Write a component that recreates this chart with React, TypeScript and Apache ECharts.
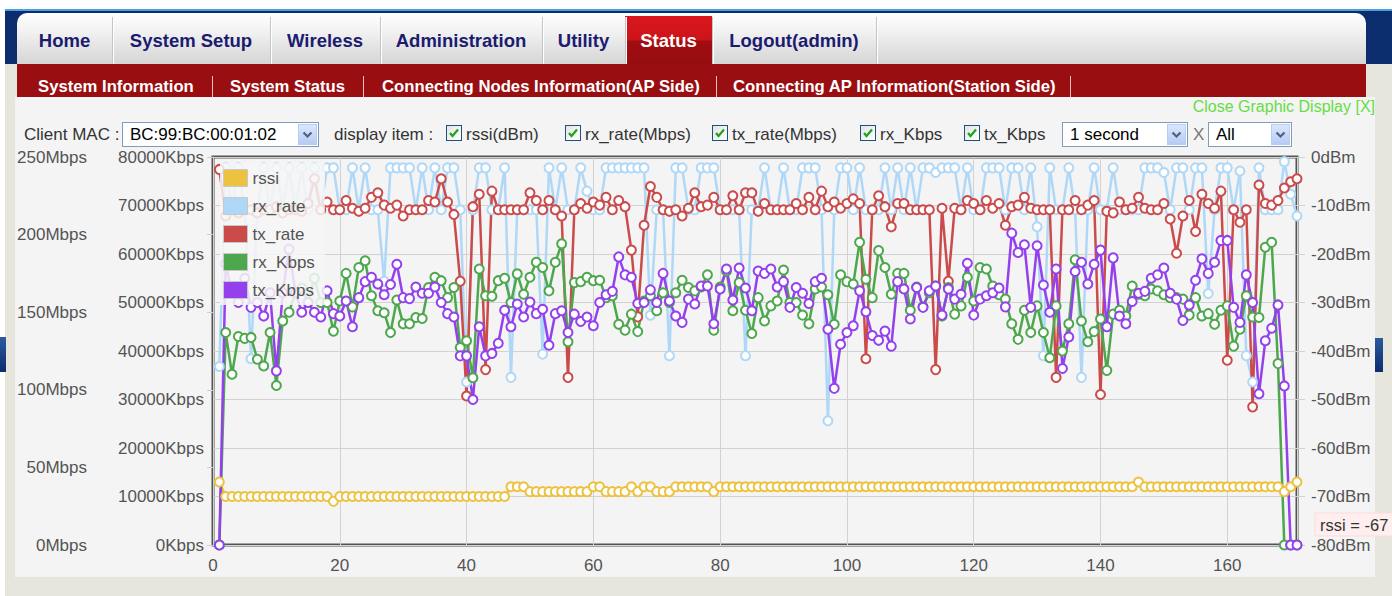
import React, { useEffect, useRef } from "react";
import * as echarts from "echarts";

const FONT = '"Liberation Sans", Arial, sans-serif';

// ---------- chart data (x = 1..171 samples) ----------
const seriesNames = ["rssi", "rx_rate", "tx_rate", "rx_Kbps", "tx_Kbps"];
const seriesColors = ["#edc240", "#afd8f8", "#cb4b4b", "#4da74d", "#9440ed"];
const xTickValues = [0, 20, 40, 60, 80, 100, 120, 140, 160];

const rssi = [
  -67, -70, -70, -70, -70, -70, -70, -70, -70, -70,
  -70, -70, -70, -70, -70, -70, -70, -70, -71, -70,
  -70, -70, -70, -70, -70, -70, -70, -70, -70, -70,
  -70, -70, -70, -70, -70, -70, -70, -70, -70, -70,
  -70, -70, -70, -70, -70, -70, -68, -68, -68, -69,
  -69, -69, -69, -69, -69, -69, -69, -69, -69, -68,
  -68, -69, -69, -69, -69, -68, -69, -68, -68, -69,
  -69, -69, -68, -68, -68, -68, -68, -68, -69, -68,
  -68, -68, -68, -68, -68, -68, -68, -68, -68, -68,
  -68, -68, -68, -68, -68, -68, -68, -68, -68, -68,
  -68, -68, -68, -68, -68, -68, -68, -68, -68, -68,
  -68, -68, -68, -68, -68, -68, -68, -68, -68, -68,
  -68, -68, -68, -68, -68, -68, -68, -68, -68, -68,
  -68, -68, -68, -68, -68, -68, -68, -68, -68, -68,
  -68, -68, -68, -68, -68, -67, -68, -68, -68, -68,
  -68, -68, -68, -68, -68, -68, -68, -68, -68, -68,
  -68, -68, -68, -68, -68, -68, -68, -68, -69, -68,
  -67,
];

const rxRate = [
  115, 243, 216, 243, 216, 120, 216, 243, 216, 243,
  216, 243, 216, 243, 216, 243, 216, 243, 243, 216,
  216, 243, 216, 243, 216, 216, 170, 243, 243, 243,
  243, 216, 243, 216, 243, 216, 243, 243, 216, 105,
  216, 243, 243, 216, 216, 243, 108, 216, 216, 216,
  216, 123, 243, 216, 243, 216, 216, 243, 228, 216,
  216, 243, 243, 243, 243, 243, 243, 243, 148, 216,
  216, 122, 243, 243, 216, 216, 243, 243, 243, 216,
  216, 216, 216, 122, 216, 216, 243, 216, 216, 243,
  216, 216, 243, 243, 243, 216, 80, 216, 243, 243,
  216, 243, 216, 216, 216, 243, 216, 243, 216, 243,
  216, 243, 243, 240, 243, 243, 243, 216, 243, 216,
  216, 243, 243, 243, 216, 243, 243, 216, 243, 205,
  122, 243, 216, 216, 243, 216, 108, 216, 243, 216,
  216, 243, 216, 216, 216, 216, 243, 243, 243, 240,
  216, 243, 243, 216, 243, 243, 162, 216, 243, 243,
  216, 241, 122, 105, 243, 216, 216, 216, 247, 226,
  212,
];

const txRate = [
  242, 212, 216, 214, 216, 216, 214, 216, 216, 218,
  214, 216, 216, 215, 220, 236, 216, 221, 216, 216,
  222, 217, 215, 217, 224, 227, 219, 217, 219, 212,
  216, 216, 216, 222, 221, 236, 221, 213, 170, 96,
  218, 226, 113, 228, 216, 216, 216, 216, 216, 227,
  222, 216, 222, 216, 212, 108, 216, 220, 217, 221,
  219, 224, 216, 222, 218, 190, 147, 206, 231, 224,
  216, 215, 216, 212, 217, 227, 218, 219, 224, 216,
  216, 225, 216, 227, 227, 215, 220, 216, 216, 216,
  216, 220, 216, 224, 216, 228, 218, 221, 217, 220,
  223, 220, 120, 216, 225, 218, 205, 220, 220, 216,
  216, 216, 216, 113, 217, 170, 217, 216, 222, 220,
  216, 222, 217, 220, 206, 218, 219, 224, 217, 216,
  216, 216, 108, 216, 216, 222, 216, 219, 222, 97,
  215, 214, 221, 216, 217, 224, 217, 216, 216, 220,
  210, 188, 212, 222, 202, 226, 220, 217, 228, 119,
  216, 208, 216, 89, 232, 220, 219, 222, 230, 234,
  236,
];

const rxKbps = [
  0, 43800, 35200, 43000, 42600, 42800, 38300, 36900, 43800, 32900,
  46200, 48000, 52000, 53000, 50000, 55000, 50000, 50000, 44100, 50300,
  56000, 49100, 57200, 58600, 51400, 48300, 47900, 43800, 50500, 45600,
  45600, 46900, 46700, 53100, 55200, 54500, 51000, 53100, 40700, 42100,
  34500, 56900, 51400, 51300, 54500, 55000, 50000, 55900, 51700, 55200,
  58300, 57200, 52400, 58300, 62100, 41900, 54100, 54300, 55200, 54500,
  54600, 51000, 51400, 45500, 44300, 47600, 44000, 50300, 51400, 48300,
  52000, 50000, 52000, 54600, 53100, 52400, 53200, 55700, 44300, 53200,
  56500, 48300, 54100, 48400, 43600, 51000, 46200, 49300, 50300, 56700,
  50000, 50000, 47400, 45600, 52800, 53200, 51600, 45500, 55700, 54300,
  53800, 62400, 54800, 51000, 60700, 57200, 51700, 56000, 56000, 48400,
  53200, 49100, 52000, 53400, 47200, 53100, 47600, 49300, 55200, 50300,
  57200, 56900, 53400, 51600, 50700, 45600, 42400, 48400, 43800, 49300,
  43800, 38600, 49300, 40000, 45600, 58800, 46200, 41900, 44000, 46600,
  36000, 47600, 48400, 47200, 53400, 51700, 51400, 52800, 52400, 51600,
  51000, 51000, 50700, 47400, 51000, 47200, 47700, 45500, 48400, 49300,
  41000, 44500, 51400, 47000, 46900, 61400, 62400, 37400, 0, 0,
  0,
];

const txKbps = [
  0, 58000, 52000, 50000, 55000, 49000, 50000, 47200, 52000, 35900,
  52000, 61000, 52000, 48000, 50000, 48000, 47000, 52400, 47700, 47200,
  50300, 45000, 51000, 54300, 55200, 53800, 51600, 53700, 57900, 51000,
  50800, 53200, 51900, 51900, 53200, 50000, 47700, 47000, 39000, 39000,
  30000, 45000, 39000, 39500, 41600, 48400, 45000, 49700, 47000, 50100,
  47700, 48600, 41200, 47700, 48300, 43800, 47600, 46100, 47000, 45200,
  50000, 51600, 52300, 59400, 55700, 55200, 49800, 50000, 52600, 50000,
  56000, 50300, 47200, 45900, 50700, 49700, 53400, 53400, 45600, 52800,
  56900, 50500, 57100, 53000, 48300, 56500, 56000, 56900, 53200, 54300,
  49000, 53100, 51900, 49800, 54300, 55000, 44500, 32300, 41400, 43800,
  45200, 52400, 48100, 43200, 42200, 44100, 41000, 54300, 52800, 46600,
  53100, 49000, 52400, 53400, 47400, 52800, 50700, 51700, 58100, 47400,
  50700, 51400, 52000, 53000, 49100, 64300, 60300, 61900, 49000, 61700,
  53600, 48000, 56900, 36400, 42900, 56400, 58300, 53800, 57900, 60800,
  45000, 59200, 47200, 45600, 50200, 51900, 52300, 55000, 55700, 57100,
  51900, 50700, 46300, 49500, 54600, 59000, 56000, 58300, 62800, 62800,
  49000, 45900, 55700, 50000, 31200, 42100, 44700, 49500, 32800, 0,
  0,
];

const tooltipText = "rssi = -67";

// ---------- page chrome labels ----------
const topTabs = ["Home", "System Setup", "Wireless", "Administration", "Utility", "Status", "Logout(admin)"];
const topTabEdges = [17, 112, 270, 380, 542, 625, 712, 876];
const activeTab = "Status";
const subTabs = [
  "System Information",
  "System Status",
  "Connecting Nodes Information(AP Side)",
  "Connecting AP Information(Station Side)",
];
const subTabLefts = [38, 230, 382, 733];
const subSeparators = [212, 363, 716, 1070];
const displayItems = ["rssi(dBm)", "rx_rate(Mbps)", "tx_rate(Mbps)", "rx_Kbps", "tx_Kbps"];
const displayBoxLefts = [446, 565, 712, 860, 964];

function Chevron() {
  return (
    <svg width="11" height="8" viewBox="0 0 11 8" style={{ display: "block" }}>
      <polyline points="1.5,1.5 5.5,5.5 9.5,1.5" fill="none" stroke="#4d6185" strokeWidth="2.2" />
    </svg>
  );
}

function Select({ left, top, width, text }: { left: number; top: number; width: number; text: string }) {
  return (
    <div
      style={{
        position: "absolute",
        left,
        top,
        width,
        height: 25,
        boxSizing: "border-box",
        border: "1px solid #7f9db9",
        background: "#fff",
      }}
    >
      <div
        style={{
          position: "absolute",
          left: 7,
          top: 0,
          lineHeight: "23px",
          fontSize: 17,
          color: "#000",
          fontFamily: FONT,
          whiteSpace: "nowrap",
        }}
      >
        {text}
      </div>
      <div
        style={{
          position: "absolute",
          right: 1,
          top: 1,
          width: 19,
          height: 21,
          background: "linear-gradient(#dce7fc, #b7cbf3)",
          border: "1px solid #b9ccf5",
          boxSizing: "border-box",
          display: "flex",
          alignItems: "center",
          justifyContent: "center",
        }}
      >
        <Chevron />
      </div>
    </div>
  );
}

function CheckBox({ left, top }: { left: number; top: number }) {
  return (
    <div
      style={{
        position: "absolute",
        left,
        top,
        width: 16,
        height: 16,
        boxSizing: "border-box",
        border: "1px solid #1c5180",
        background: "linear-gradient(135deg, #e4e4e0, #ffffff)",
      }}
    >
      <svg width="14" height="14" viewBox="0 0 14 14" style={{ display: "block" }}>
        <polyline points="3,7 5.5,10 11,3.5" fill="none" stroke="#21a121" strokeWidth="2.2" />
      </svg>
    </div>
  );
}

function Chart() {
  const ref = useRef<HTMLDivElement>(null);
  useEffect(() => {
    if (!ref.current) return;
    const chart = echarts.init(ref.current, undefined, { renderer: "svg" });
    const toPairs = (arr: number[]) => arr.map((v, i) => [i + 1, v]);
    const seriesData = [rssi, rxRate, txRate, rxKbps, txKbps];
    const axisIdx = [2, 0, 0, 1, 1];
    const labelStyle = { color: "#545454", fontSize: 17, fontFamily: FONT };

    chart.setOption({
      animation: false,
      backgroundColor: "transparent",
      textStyle: { fontFamily: FONT },
      grid: {
        left: 213,
        right: 95,
        top: 9,
        bottom: 51,
        show: true,
        borderColor: "#545454",
        borderWidth: 3,
        backgroundColor: "transparent",
      },
      legend: {
        orient: "vertical",
        left: 220,
        top: 15,
        z: 20,
        padding: [6, 10, 6, 3],
        itemWidth: 24,
        itemHeight: 17,
        itemGap: 10,
        icon: "rect",
        backgroundColor: "rgba(246,246,246,0.86)",
        textStyle: { color: "#545454", fontSize: 17, fontFamily: FONT },
        selectedMode: false,
        data: seriesNames.map((n, i) => ({
          name: n,
          itemStyle: { color: seriesColors[i], borderColor: "#c8c8c8", borderWidth: 1 },
        })),
      },
      xAxis: {
        type: "value",
        min: 0,
        max: 171,
        interval: 20,
        axisLine: { show: false },
        axisTick: { show: false },
        axisLabel: {
          ...labelStyle,
          margin: 12,
          showMaxLabel: false,
          formatter: (v: number) => (xTickValues.includes(v) ? String(v) : ""),
        },
        splitLine: { show: true, lineStyle: { color: "#d2d2d2", width: 1 } },
      },
      yAxis: [
        {
          type: "value",
          position: "left",
          offset: 110,
          min: 0,
          max: 250,
          interval: 50,
          axisLine: { show: true, lineStyle: { color: "#cfcfcf", width: 1 } },
          axisTick: { show: true, length: 6, lineStyle: { color: "#cfcfcf" } },
          axisLabel: { ...labelStyle, margin: 16, formatter: (v: number) => v + "Mbps" },
          splitLine: { show: false },
        },
        {
          type: "value",
          position: "left",
          offset: 0,
          min: 0,
          max: 80000,
          interval: 10000,
          axisLine: { show: false },
          axisTick: { show: false },
          axisLabel: { ...labelStyle, margin: 9, formatter: (v: number) => v + "Kbps" },
          splitLine: { show: true, lineStyle: { color: "#d2d2d2", width: 1 } },
        },
        {
          type: "value",
          position: "right",
          min: -80,
          max: 0,
          interval: 10,
          axisLine: { show: false },
          axisTick: { show: true, length: 8, lineStyle: { color: "#d2d2d2" } },
          axisLabel: { ...labelStyle, margin: 14, formatter: (v: number) => v + "dBm" },
          splitLine: { show: false },
        },
      ],
      series: seriesNames.map((n, i) => ({
        name: n,
        type: "line",
        yAxisIndex: axisIdx[i],
        data: toPairs(seriesData[i]),
        symbol: "emptyCircle",
        symbolSize: 9,
        showAllSymbol: true,
        clip: false,
        silent: true,
        color: seriesColors[i],
        lineStyle: { width: 2.5, color: seriesColors[i] },
        itemStyle: { color: seriesColors[i], borderWidth: 2.5 },
        emphasis: { disabled: true },
        z: 2,
      })),
      graphic: [
        {
          type: "group",
          z: 100,
          children: [
            {
              type: "rect",
              shape: { x: 1315, y: 365, width: 100, height: 23 },
              style: { fill: "#ffeeee", stroke: "#fddcdc", lineWidth: 1 },
            },
            {
              type: "text",
              x: 1320,
              y: 377,
              style: {
                text: tooltipText,
                fill: "#333",
                fontSize: 16.5,
                fontFamily: FONT,
                verticalAlign: "middle",
              },
            },
          ],
        },
      ],
    });
    return () => chart.dispose();
  }, []);
  return (
    <div
      ref={ref}
      style={{ position: "absolute", left: 0, top: 148, width: 1392, height: 448 }}
    />
  );
}

export default function App() {
  return (
    <div
      style={{
        position: "fixed",
        left: 0,
        top: 0,
        width: 1392,
        height: 596,
        overflow: "hidden",
        background: "#ffffff",
        fontFamily: FONT,
      }}
    >
      {/* beige frame */}
      <div style={{ position: "absolute", left: 5, top: 64, width: 1387, height: 532, background: "#e6e6dd" }} />
      {/* navy header band */}
      <div style={{ position: "absolute", left: 5, top: 9, width: 1387, height: 2, background: "#4aa2dc" }} />
      <div style={{ position: "absolute", left: 5, top: 11, width: 1387, height: 53, background: "#0c2d6d" }} />
      {/* side blue artifacts */}
      <div style={{ position: "absolute", left: 0, top: 337, width: 6, height: 35, background: "linear-gradient(#2d5aa0, #0c2d6d)" }} />
      <div style={{ position: "absolute", left: 1375, top: 338, width: 8, height: 34, background: "linear-gradient(#2d5aa0, #0c2d6d)" }} />
      {/* tab panel */}
      <div
        style={{
          position: "absolute",
          left: 17,
          top: 13,
          width: 1349,
          height: 51,
          borderRadius: "10px 10px 0 0",
          background: "linear-gradient(#ffffff 0%, #f2f2f2 35%, #d5d5d5 100%)",
        }}
      />
      {topTabs.map((t, i) => {
        const l = topTabEdges[i];
        const r = topTabEdges[i + 1];
        const active = t === activeTab;
        return (
          <div
            key={t}
            style={{
              position: "absolute",
              left: l,
              top: active ? 16 : 17,
              width: r - l,
              height: active ? 48 : 47,
              display: "flex",
              alignItems: "center",
              justifyContent: "center",
              fontWeight: "bold",
              fontSize: 18.5,
              color: active ? "#ffffff" : "#1b1b70",
              background: active
                ? "linear-gradient(#d9171d 0%, #cc141a 50%, #a20d11 52%, #960d10 100%)"
                : "transparent",
              paddingTop: active ? 2 : 0,
              boxSizing: "border-box",
              whiteSpace: "nowrap",
            }}
          >
            {t}
          </div>
        );
      })}
      {topTabEdges.slice(1).map((x) => (
        <div key={"sep" + x}>
          <div style={{ position: "absolute", left: x, top: 17, width: 1, height: 47, background: "#c4c4c4" }} />
          <div style={{ position: "absolute", left: x + 1, top: 17, width: 1, height: 47, background: "#ffffff" }} />
        </div>
      ))}
      {/* red sub nav */}
      <div style={{ position: "absolute", left: 17, top: 64, width: 1349, height: 33, background: "#990e11" }} />
      {subTabs.map((t, i) => (
        <div
          key={t}
          style={{
            position: "absolute",
            left: subTabLefts[i],
            top: 76,
            lineHeight: "21px",
            fontSize: 16.7,
            fontWeight: "bold",
            color: "#ffffff",
            whiteSpace: "nowrap",
          }}
        >
          {t}
        </div>
      ))}
      {subSeparators.map((x) => (
        <div key={"ss" + x} style={{ position: "absolute", left: x, top: 76, width: 1, height: 21, background: "rgba(255,235,235,0.8)" }} />
      ))}
      {/* content panel */}
      <div style={{ position: "absolute", left: 15, top: 97, width: 1360, height: 480, background: "#f4f4f4" }} />
      <div
        style={{
          position: "absolute",
          right: 1392 - 1375,
          top: 97,
          lineHeight: "20px",
          fontSize: 16,
          color: "#66dd44",
          whiteSpace: "nowrap",
        }}
      >
        Close Graphic Display [X]
      </div>
      {/* controls row */}
      <div style={{ position: "absolute", left: 24, top: 124, lineHeight: "21px", fontSize: 17, color: "#333", whiteSpace: "nowrap" }}>
        Client MAC :
      </div>
      <Select left={122} top={122} width={197} text="BC:99:BC:00:01:02" />
      <div style={{ position: "absolute", left: 334, top: 124, lineHeight: "21px", fontSize: 17, color: "#333", whiteSpace: "nowrap" }}>
        display item :
      </div>
      {displayItems.map((d, i) => (
        <div key={d}>
          <CheckBox left={displayBoxLefts[i]} top={125} />
          <div
            style={{
              position: "absolute",
              left: displayBoxLefts[i] + 20,
              top: 124,
              lineHeight: "21px",
              fontSize: 17,
              color: "#333",
              whiteSpace: "nowrap",
            }}
          >
            {d}
          </div>
        </div>
      ))}
      <Select left={1062} top={122} width={126} text="1 second" />
      <div style={{ position: "absolute", left: 1193, top: 124, lineHeight: "21px", fontSize: 17, color: "#777", whiteSpace: "nowrap" }}>
        X
      </div>
      <Select left={1208} top={122} width={84} text="All" />
      <Chart />
    </div>
  );
}
